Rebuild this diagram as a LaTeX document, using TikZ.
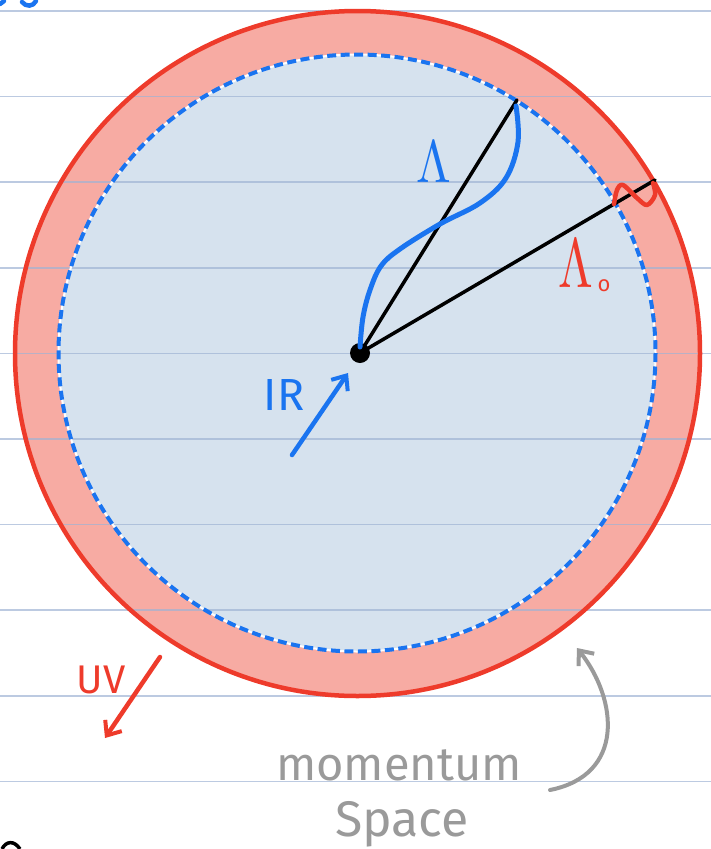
\documentclass[tikz,border=0pt]{standalone}
\usepackage{fontspec}
\usepackage{graphicx}
\setmainfont{Fira Sans}
\usetikzlibrary{arrows.meta}
\definecolor{ringred}{HTML}{F7ABA3}
\definecolor{innerblue}{HTML}{D6E2EE}
\definecolor{strokered}{HTML}{EE3B2B}
\definecolor{penblue}{HTML}{1A74F0}
\definecolor{ruled}{HTML}{9FB3D4}
\definecolor{pengray}{HTML}{9A9A9A}
\tikzset{
  ruleline/.style={ruled, line width=1.5pt, opacity=0.7},
  bluepen/.style={penblue, line width=4.5pt, line cap=round, line join=round},
  redpen/.style={strokered, line width=4.5pt, line cap=round, line join=round},
  graypen/.style={pengray, line width=4pt, line cap=round, line join=round},
  blackpen/.style={black, line width=3.5pt, line cap=round},
  hand/.style={inner sep=0pt},
  barb/.style={-{Straight Barb[length=12pt,width=20pt,line width=4pt]}}
}
\begin{document}
\begin{tikzpicture}[x=1pt,y=-1pt]
\useasboundingbox (0,0) rectangle (711,849);
% fills
\fill[ringred] (357.5,353.5) circle (342.5);
\fill[innerblue] (357,353) circle (298.5);
% ruled lines
\foreach \k in {0,...,9}{
  \draw[ruleline] (0,{11+85.6*\k}) -- (711,{11+85.6*\k});
}
% circles
\draw[strokered, line width=4.5pt] (357.5,353.5) circle (342.5);
\draw[white, line width=2pt] (357,353) circle (298.5);
\draw[penblue, line width=4pt, dash pattern=on 9pt off 4.5pt] (357,353) circle (298.5);
% centre and radii
\coordinate (O) at (360,353);
\coordinate (L) at (517,100);
\coordinate (L0) at (655,180);
\draw[blackpen] (O) -- (L);
\draw[blackpen] (O) -- (L0);
\fill[black] (O) circle (10);
% blue bump curve
\draw[bluepen, line width=5pt] plot[smooth, tension=0.6] coordinates {(360,347) (363,317) (370,290) (381,266) (400,249) (440,224) (480,203) (506,178) (518,142) (516,106)};
% red wiggle
\draw[redpen] plot[smooth, tension=0.55] coordinates {(614,204) (617,190) (623,185) (637,198) (647,205) (655,195) (653,183)};
% labels
\node[hand, penblue] (lam) at (434,162) {\scalebox{5}[6]{$\Lambda$}};
\node[hand, strokered] (lam0) at (576,264) {\scalebox{5}[7]{$\Lambda$}};
\node[hand, strokered, anchor=base] (sub0) at (604,291) {\fontsize{22}{22}\selectfont o};
\node[hand, penblue, anchor=base] (ir) at (284,410) {\fontsize{45}{45}\selectfont IR};
\node[hand, strokered, anchor=base] (uv) at (101,693) {\fontsize{40}{40}\selectfont UV};
\node[hand, pengray, anchor=base] (mom) at (399,780) {\fontsize{47}{47}\selectfont momentum};
\node[hand, pengray, anchor=base] (spc) at (402,836) {\fontsize{50}{50}\selectfont Space};
% arrows
\coordinate (irA) at (292,455);
\coordinate (irB) at (348,373);
\draw[bluepen, barb] (irA) -- (irB);
\coordinate (uvA) at (160,657);
\coordinate (uvB) at (105,738);
\draw[redpen, barb] (uvA) -- (uvB);
\coordinate (msA) at (550,790);
\coordinate (msB) at (577,648);
\draw[graypen, barb] (msA) .. controls (625,775) and (618,700) .. (msB);
% cut-off fragments at the edges
\draw[bluepen] (0,4) -- (4,1);
\draw[bluepen] (22,2) .. controls (26,7) and (33,7) .. (36,1);
\draw[black, line width=3.5pt] (2,849) .. controls (6,841) and (14,840) .. (20,849);
\end{tikzpicture}
\end{document}
